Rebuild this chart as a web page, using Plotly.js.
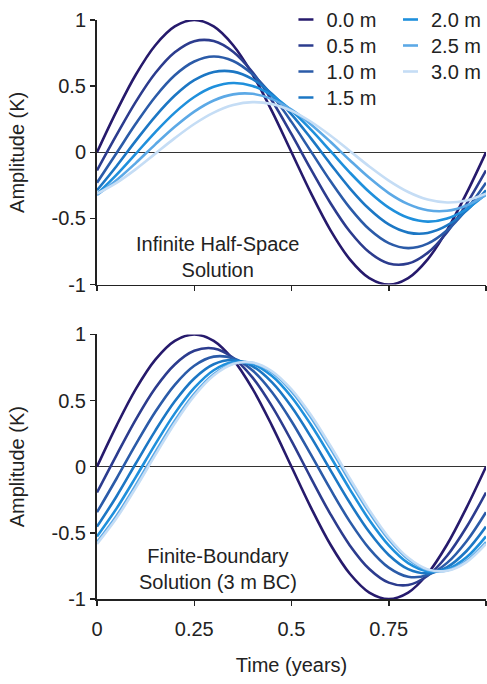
<!DOCTYPE html>
<html>
<head>
<meta charset="utf-8">
<script src="https://cdn.plot.ly/plotly-3.0.1.min.js"></script>
<style>html,body{margin:0;padding:0;background:#fff;}#chart{width:487px;height:684px;}</style>
</head>
<body>
<div id="chart"></div>
<script>
// Time axis (years)
var time = [0,0.05,0.1,0.15,0.2,0.25,0.3,0.35,0.4,0.45,0.5,0.55,0.6,0.65,0.7,0.75,0.8,0.85,0.9,0.95,1];
var depthLabels = ["0.0 m","0.5 m","1.0 m","1.5 m","2.0 m","2.5 m","3.0 m"];
var colors = ["#261a6c","#2c3c8e","#2b5ba8","#1c77c4","#1f90dc","#5ca9e6","#c5ddf5"];
var yTickVals = [-1,-0.5,0,0.5,1];
var yTickText = ["-1","-0.5","0","0.5","1"];
var xTickVals = [0,0.25,0.5,0.75,1];
var xTickText = ["0","0.25","0.5","0.75","1"];

// Infinite half-space solution (top panel)
var top00 = [0,0.309,0.588,0.809,0.951,1,0.951,0.809,0.588,0.309,0,-0.309,-0.588,-0.809,-0.951,-1,-0.951,-0.809,-0.588,-0.309,0];
var top05 = [-0.137,0.129,0.383,0.599,0.756,0.840,0.841,0.760,0.604,0.390,0.137,-0.129,-0.383,-0.599,-0.756,-0.840,-0.841,-0.760,-0.604,-0.390,-0.137];
var top10 = [-0.230,-0.007,0.217,0.420,0.582,0.686,0.724,0.690,0.589,0.431,0.230,0.007,-0.217,-0.420,-0.582,-0.686,-0.724,-0.690,-0.589,-0.431,-0.230];
var top15 = [-0.287,-0.105,0.088,0.272,0.429,0.545,0.607,0.610,0.553,0.441,0.287,0.105,-0.088,-0.272,-0.429,-0.545,-0.607,-0.610,-0.553,-0.441,-0.287];
var top20 = [-0.316,-0.171,-0.010,0.153,0.300,0.418,0.495,0.524,0.501,0.429,0.316,0.171,0.010,-0.153,-0.300,-0.418,-0.495,-0.524,-0.501,-0.429,-0.316];
var top25 = [-0.322,-0.211,-0.080,0.060,0.193,0.308,0.392,0.438,0.442,0.402,0.322,0.211,0.080,-0.060,-0.193,-0.308,-0.392,-0.438,-0.442,-0.402,-0.322];
var top30 = [-0.313,-0.231,-0.127,-0.010,0.107,0.214,0.300,0.357,0.379,0.364,0.313,0.231,0.127,0.010,-0.107,-0.214,-0.300,-0.357,-0.379,-0.364,-0.313];

// Finite-boundary solution, 3 m BC (bottom panel)
var bot00 = [0,0.309,0.588,0.809,0.951,1,0.951,0.809,0.588,0.309,0,-0.309,-0.588,-0.809,-0.951,-1,-0.951,-0.809,-0.588,-0.309,0];
var bot05 = [-0.195,0.086,0.358,0.595,0.773,0.876,0.894,0.824,0.673,0.456,0.195,-0.086,-0.358,-0.595,-0.773,-0.876,-0.894,-0.824,-0.673,-0.456,-0.195];
var bot10 = [-0.344,-0.091,0.170,0.415,0.619,0.763,0.832,0.819,0.727,0.563,0.344,0.091,-0.170,-0.415,-0.619,-0.763,-0.832,-0.819,-0.727,-0.563,-0.344];
var bot15 = [-0.453,-0.225,0.026,0.273,0.494,0.667,0.774,0.806,0.759,0.637,0.453,0.225,-0.026,-0.273,-0.494,-0.667,-0.774,-0.806,-0.759,-0.637,-0.453];
var bot20 = [-0.527,-0.317,-0.077,0.171,0.403,0.595,0.729,0.791,0.776,0.685,0.527,0.317,0.077,-0.171,-0.403,-0.595,-0.729,-0.791,-0.776,-0.685,-0.527];
var bot25 = [-0.570,-0.372,-0.138,0.110,0.347,0.550,0.699,0.780,0.784,0.712,0.570,0.372,0.138,-0.110,-0.347,-0.550,-0.699,-0.780,-0.784,-0.712,-0.570];
var bot30 = [-0.584,-0.390,-0.158,0.089,0.328,0.535,0.689,0.776,0.787,0.721,0.584,0.390,0.158,-0.089,-0.328,-0.535,-0.689,-0.776,-0.787,-0.721,-0.584];

var topSeries = [top00, top05, top10, top15, top20, top25, top30];
var botSeries = [bot00, bot05, bot10, bot15, bot20, bot25, bot30];

var font = {family: "Arial, 'Liberation Sans', sans-serif", size: 20, color: "#222"};
var traces = [];
topSeries.forEach(function (ys, i) {
  traces.push({
    x: time, y: ys, xaxis: "x2", yaxis: "y2", type: "scatter", mode: "lines",
    name: depthLabels[i], line: {color: colors[i], width: 2.6, shape: "spline"},
    legend: i < 4 ? "legend" : "legend2", showlegend: true, hoverinfo: "skip"
  });
});
botSeries.forEach(function (ys, i) {
  traces.push({
    x: time, y: ys, xaxis: "x", yaxis: "y", type: "scatter", mode: "lines",
    name: depthLabels[i], line: {color: colors[i], width: 2.6, shape: "spline"},
    showlegend: false, hoverinfo: "skip"
  });
});

function yAxis(domain, anchor) {
  return {
    domain: domain, anchor: anchor, range: [-1, 1], fixedrange: true,
    tickmode: "array", tickvals: yTickVals, ticktext: yTickText,
    ticks: "outside", ticklen: 5, tickwidth: 1.5, tickcolor: "#222",
    showline: true, linecolor: "#222", linewidth: 2, showgrid: false,
    zeroline: true, zerolinecolor: "#333", zerolinewidth: 1.5,
    tickfont: font, title: {text: "Amplitude (K)", font: font, standoff: 22}
  };
}
function xAxis(domainAnchor, labels) {
  return {
    domain: [0, 1], anchor: domainAnchor, range: [0, 1], fixedrange: true,
    tickmode: "array", tickvals: xTickVals, ticktext: xTickText,
    ticks: "outside", ticklen: 5, tickwidth: 1.5, tickcolor: "#222",
    showline: true, linecolor: "#222", linewidth: 1.5, showgrid: false, zeroline: false,
    showticklabels: labels, tickfont: font, ticklabelstandoff: 6
  };
}

var xa = xAxis("y", true);
xa.title = {text: "Time (years)", font: font, standoff: 19};
var legendCommon = {xanchor: "left", yanchor: "top", bgcolor: "rgba(0,0,0,0)",
                    font: font, tracegroupgap: 0, itemwidth: 30};
var legend1 = Object.assign({x: 0.487, y: 1.0346}, legendCommon);
var legend2 = Object.assign({x: 0.756, y: 1.0346}, legendCommon);

var layout = {
  width: 487, height: 684,
  margin: {l: 97, r: 0, t: 17, b: 85},
  paper_bgcolor: "#fff", plot_bgcolor: "#fff",
  font: font,
  xaxis: xa,
  yaxis: yAxis([0, 0.457], "x"),
  xaxis2: xAxis("y2", false),
  yaxis2: yAxis([0.543, 1], "x2"),
  legend: legend1,
  legend2: legend2,
  annotations: [
    {xref: "x2", yref: "y2", x: 0.31, y: -0.79, text: "Infinite Half-Space<br>Solution",
     showarrow: false, font: font, align: "center"},
    {xref: "x", yref: "y", x: 0.31, y: -0.775, text: "Finite-Boundary<br>Solution (3 m BC)",
     showarrow: false, font: font, align: "center"}
  ]
};

Plotly.newPlot("chart", traces, layout, {staticPlot: true, displayModeBar: false}).then(function () {
  // shorter legend line symbols, as in the reference
  document.querySelectorAll(".legendlines path").forEach(function (p) {
    p.setAttribute("d", "M12,0h15");
  });
  // tighter legend row spacing (26 px), as in the reference
  document.querySelectorAll("g.legend, g.legend2").forEach(function (lg) {
    var y0 = null;
    lg.querySelectorAll("g.traces").forEach(function (it, i) {
      var m = /translate\(\s*([-\d.e]+)[ ,]+([-\d.e]+)\s*\)/.exec(it.getAttribute("transform") || "");
      if (!m) return;
      if (y0 === null) y0 = +m[2];
      it.setAttribute("transform", "translate(" + m[1] + "," + (y0 + i * 26) + ")");
    });
  });
});
</script>
</body>
</html>
